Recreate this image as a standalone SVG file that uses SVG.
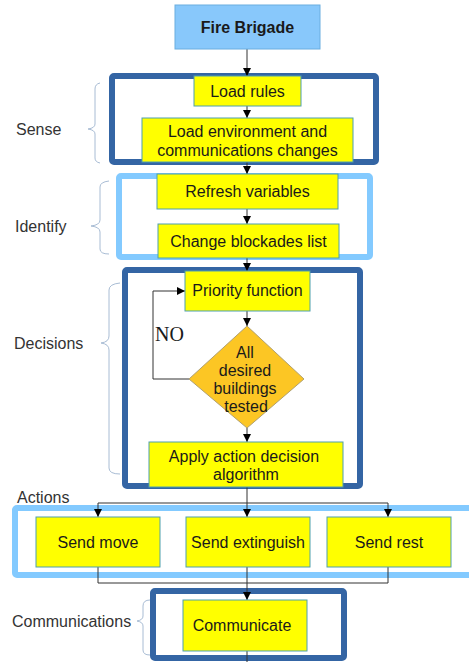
<svg xmlns="http://www.w3.org/2000/svg" width="469" height="662" viewBox="0 0 469 662">
<style>
.box{fill:#ffff00;stroke:#4f9fae;stroke-width:1}
.t{font-family:"Liberation Sans",Arial,sans-serif;font-size:16px;fill:#1a1a1a;text-anchor:middle}
.lbl{font-family:"Liberation Sans",Arial,sans-serif;font-size:16px;fill:#333}
.dark{fill:none;stroke:#3465a4;stroke-width:6}
.light{fill:none;stroke:#83caff;stroke-width:6}
.c{fill:none;stroke:#333;stroke-width:1}
.br{fill:none;stroke:#a8bcd4;stroke-width:1}
</style>
<defs>
<marker id="ah" markerWidth="8" markerHeight="8" refX="8" refY="4" orient="auto" markerUnits="userSpaceOnUse">
<path d="M0,0 L8,4 L0,8 Z" fill="#000"/>
</marker>
</defs>
<rect width="469" height="662" fill="#fff"/>

<g id="containers">
<rect class="dark" x="112" y="76" width="264" height="86" rx="2"/>
<rect class="light" x="119" y="176" width="251" height="81" rx="2"/>
<rect class="dark" x="125" y="270" width="235" height="216" rx="2"/>
<rect class="light" x="15" y="508" width="470" height="67" rx="2"/>
<rect class="dark" x="153" y="591" width="191" height="67" rx="2"/>
</g>

<g id="labels">
<text class="lbl" x="16" y="135">Sense</text>
<path class="br" d="M100,83 Q95,84 95,89 L95,124 Q95,128 88,129 Q95,130 95,134 L95,158 Q95,162 100,163"/>
<text class="lbl" x="15" y="232">Identify</text>
<path class="br" d="M109,181 Q100,182 100,187 L100,220 Q100,225 91,226 Q100,227 100,232 L100,249 Q100,254 109,254"/>
<text class="lbl" x="14" y="349">Decisions</text>
<path class="br" d="M120,283 Q109,284 109,290 L109,336 Q109,342 101,343 Q109,344 109,350 L109,468 Q109,474 120,474"/>
<text class="lbl" x="17" y="503">Actions</text>
<text class="lbl" x="12" y="627">Communications</text>
<path class="br" d="M150,600 Q143,600 143,606 L143,616 Q143,620 137,621 Q143,622 143,626 L143,650 Q143,655 150,655"/>
</g>

<g id="connectors">
<line class="c" x1="247" y1="49" x2="247" y2="76" marker-end="url(#ah)"/>
<line class="c" x1="247" y1="106" x2="247" y2="118" marker-end="url(#ah)"/>
<line class="c" x1="247" y1="162" x2="247" y2="174" marker-end="url(#ah)"/>
<line class="c" x1="247" y1="209" x2="247" y2="224" marker-end="url(#ah)"/>
<line class="c" x1="247" y1="258" x2="247" y2="271" marker-end="url(#ah)"/>
<line class="c" x1="247" y1="311" x2="247" y2="326" marker-end="url(#ah)"/>
<polyline class="c" points="189,379 153,379 153,291 185,291" marker-end="url(#ah)"/>
<line class="c" x1="247" y1="428" x2="247" y2="442" marker-end="url(#ah)"/>
<line class="c" x1="247" y1="487" x2="247" y2="503"/>
<line class="c" x1="98" y1="503" x2="388" y2="503"/>
<line class="c" x1="98" y1="503" x2="98" y2="517" marker-end="url(#ah)"/>
<line class="c" x1="247" y1="503" x2="247" y2="517" marker-end="url(#ah)"/>
<line class="c" x1="388" y1="503" x2="388" y2="517" marker-end="url(#ah)"/>
<polyline class="c" points="98,567 98,583 388,583 388,567"/>
<line class="c" x1="247" y1="567" x2="247" y2="600" marker-end="url(#ah)"/>
<line class="c" x1="247" y1="651" x2="247" y2="662"/>
</g>

<g id="fire-brigade">
<rect x="175" y="5" width="145" height="44" fill="#88c8fb" stroke="#6aaee0" stroke-width="1"/>
<text class="t" x="247.5" y="33" font-weight="bold">Fire Brigade</text>
</g>
<g id="load-rules">
<rect class="box" x="194" y="76" width="107" height="30"/>
<text class="t" x="247.5" y="97">Load rules</text>
</g>
<g id="load-env">
<rect class="box" x="142" y="118" width="211" height="44"/>
<text class="t" x="247.5" y="137">Load environment and</text>
<text class="t" x="247.5" y="156">communications changes</text>
</g>
<g id="refresh">
<rect class="box" x="157" y="174" width="181" height="35"/>
<text class="t" x="247.5" y="197">Refresh variables</text>
</g>
<g id="blockades">
<rect class="box" x="158" y="224" width="181" height="34"/>
<text class="t" x="248.5" y="247">Change blockades list</text>
</g>
<g id="priority">
<rect class="box" x="185" y="271" width="125" height="40"/>
<text class="t" x="247.5" y="296">Priority function</text>
</g>
<g id="tested">
<polygon points="247,326 304,379 247,428 189,379" fill="#fcc624" stroke="#b0a070" stroke-width="1"/>
<text class="t" x="245" y="358">All</text>
<text class="t" x="245" y="376">desired</text>
<text class="t" x="245" y="394">buildings</text>
<text class="t" x="246" y="412">tested</text>
</g>
<text x="155" y="341" font-family="Liberation Serif,serif" font-size="20" fill="#1a1a1a">NO</text>
<g id="apply">
<rect class="box" x="149" y="442" width="194" height="45"/>
<text class="t" x="244" y="462">Apply action decision</text>
<text class="t" x="246" y="480">algorithm</text>
</g>
<g id="send-move">
<rect class="box" x="36" y="517" width="124" height="50"/>
<text class="t" x="98" y="548">Send move</text>
</g>
<g id="send-extinguish">
<rect class="box" x="186" y="517" width="124" height="50"/>
<text class="t" x="248" y="548">Send extinguish</text>
</g>
<g id="send-rest">
<rect class="box" x="327" y="517" width="124" height="50"/>
<text class="t" x="389" y="548">Send rest</text>
</g>
<g id="communicate">
<rect class="box" x="183" y="600" width="124" height="51"/>
<text class="t" x="242" y="631">Communicate</text>
</g>
</svg>
